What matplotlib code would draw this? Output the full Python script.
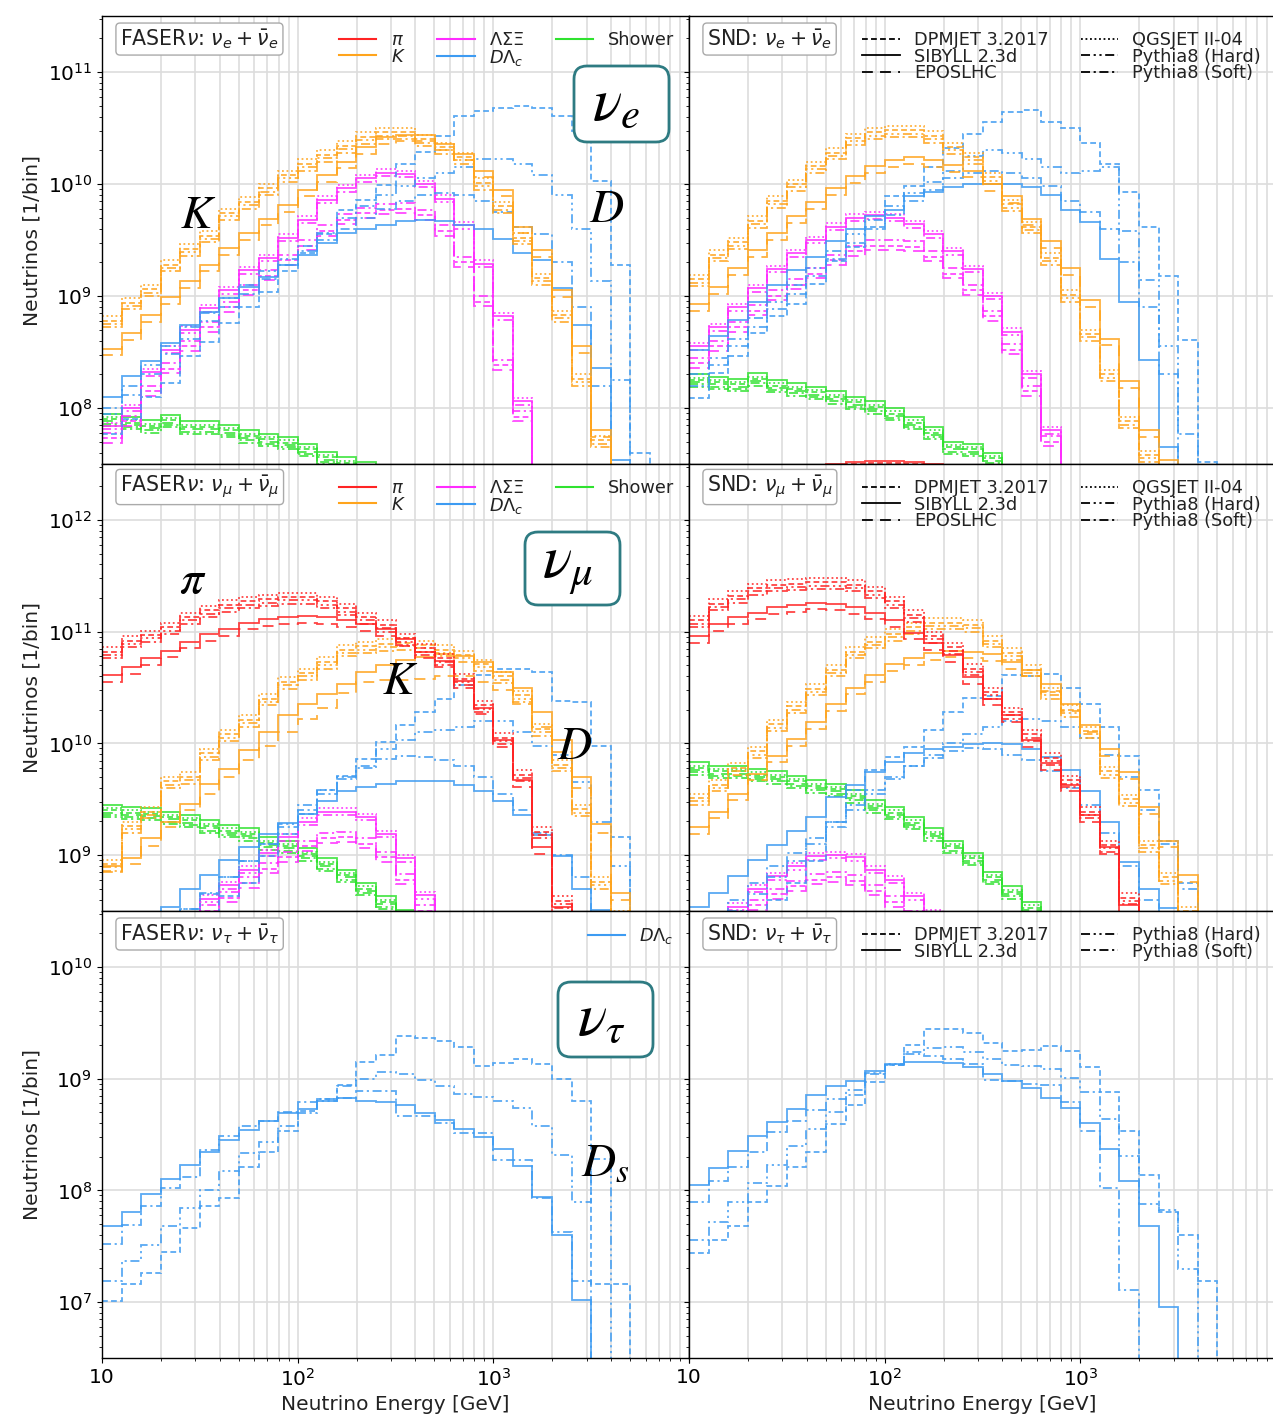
import numpy as np
import matplotlib.pyplot as plt
from matplotlib.ticker import FixedLocator, LogLocator, FuncFormatter, NullFormatter
from matplotlib.lines import Line2D
from matplotlib.patches import FancyBboxPatch
from matplotlib.transforms import IdentityTransform

# energy bins: 0.1 decade from 10 GeV to 10 TeV
edges = np.logspace(1, 4, 31)

DPM, SIB, EPOS, QGS, PYH, PYS = ('DPMJET 3.2017', 'SIBYLL 2.3d', 'EPOSLHC',
                                 'QGSJET II-04', 'Pythia8 (Hard)', 'Pythia8 (Soft)')

# log10(neutrinos / bin), 0 = empty bin
# ---- FASERnu, nu_e ----
FE_K_HI = [8.82, 8.98, 9.10, 9.32, 9.46, 9.58, 9.78, 9.88, 10.0, 10.12, 10.22, 10.30, 10.38, 10.46, 10.50,
           10.50, 10.44, 10.37, 10.28, 10.05, 9.84, 9.56, 9.20, 8.87, 8.30, 7.75, 0, 0, 0, 0]
FE_K_LO = [8.53, 8.67, 8.83, 8.99, 9.13, 9.28, 9.43, 9.56, 9.69, 9.81, 9.95, 10.08, 10.20, 10.33, 10.42,
           10.44, 10.44, 10.36, 10.27, 10.12, 9.95, 9.62, 9.41, 9.05, 8.55, 7.80, 0, 0, 0, 0]
FE_L_HI = [7.84, 8.00, 8.32, 8.52, 8.70, 8.89, 9.05, 9.23, 9.34, 9.52, 9.68, 9.86, 9.96, 10.05, 10.10,
           10.09, 10.00, 9.87, 9.63, 9.29, 8.82, 8.06, 0, 0, 0, 0, 0, 0, 0, 0]
FE_L_LO = [7.73, 7.88, 8.15, 8.35, 8.55, 8.72, 8.90, 9.05, 9.18, 9.32, 9.45, 9.58, 9.68, 9.74, 9.77,
           9.78, 9.72, 9.58, 9.30, 8.95, 8.38, 7.92, 0, 0, 0, 0, 0, 0, 0, 0]
FE_D_DPM = [7.77, 7.90, 8.10, 8.22, 8.46, 8.59, 8.76, 8.90, 9.04, 9.22, 9.38, 9.55, 9.77, 9.86, 9.99,
            10.18, 10.29, 10.43, 10.61, 10.65, 10.68, 10.70, 10.68, 10.61, 10.47, 10.03, 9.28, 7.60, 0, 0]
FE_D_SIB = [8.10, 8.29, 8.42, 8.58, 8.74, 8.86, 8.98, 9.08, 9.17, 9.28, 9.37, 9.47, 9.56, 9.60, 9.63,
            9.67, 9.68, 9.67, 9.63, 9.60, 9.51, 9.38, 9.32, 9.07, 8.74, 8.36, 7.54, 0, 0, 0]
FE_D_PYH = [8.00, 8.20, 8.38, 8.55, 8.72, 8.85, 8.98, 9.10, 9.22, 9.33, 9.45, 9.56, 9.70, 9.80, 9.90,
            9.98, 10.05, 10.10, 10.15, 10.22, 10.22, 10.18, 10.08, 9.90, 9.60, 9.13, 8.25, 0, 0, 0]
FE_D_PYS = [7.95, 8.12, 8.30, 8.48, 8.62, 8.78, 8.90, 9.02, 9.15, 9.28, 9.40, 9.50, 9.60, 9.70, 9.78,
            9.85, 9.90, 9.92, 9.90, 9.85, 9.75, 9.62, 9.55, 9.30, 8.90, 8.20, 0, 0, 0, 0]
FE_SH = [7.95, 7.92, 7.89, 7.94, 7.88, 7.88, 7.85, 7.80, 7.77, 7.74, 7.68, 7.61, 7.56, 7.52, 7.40,
         0, 0, 0, 0, 0, 0, 0, 0, 0, 0, 0, 0, 0, 0, 0]

# ---- SND, nu_e ----
SE_K_HI = [9.19, 9.41, 9.52, 9.71, 9.89, 10.04, 10.20, 10.32, 10.45, 10.50, 10.52, 10.52, 10.47, 10.37, 10.28,
           10.10, 9.86, 9.66, 9.38, 9.05, 8.70, 8.34, 7.92, 7.62, 0, 0, 0, 0, 0, 0]
SE_K_LO = [8.93, 9.08, 9.25, 9.41, 9.56, 9.71, 9.84, 9.96, 10.07, 10.16, 10.21, 10.24, 10.21, 10.17, 10.12,
           10.00, 9.89, 9.69, 9.49, 9.25, 8.96, 8.62, 8.24, 7.80, 7.54, 0, 0, 0, 0, 0]
SE_L_HI = [8.55, 8.72, 8.90, 9.07, 9.24, 9.38, 9.50, 9.62, 9.70, 9.72, 9.70, 9.64, 9.55, 9.40, 9.24,
           9.00, 8.68, 8.30, 7.80, 0, 0, 0, 0, 0, 0, 0, 0, 0, 0, 0]
SE_L_LO = [8.40, 8.55, 8.72, 8.87, 9.00, 9.10, 9.20, 9.32, 9.40, 9.45, 9.45, 9.44, 9.35, 9.20, 9.05,
           8.82, 8.52, 8.15, 7.70, 0, 0, 0, 0, 0, 0, 0, 0, 0, 0, 0]
SE_D_DPM = [8.09, 8.31, 8.46, 8.67, 8.82, 8.93, 9.11, 9.31, 9.44, 9.62, 9.89, 9.98, 10.15, 10.32, 10.45,
            10.55, 10.64, 10.66, 10.55, 10.50, 10.37, 10.18, 9.93, 9.62, 9.18, 8.61, 7.52, 0, 0, 0]
SE_D_SIB = [8.52, 8.64, 8.79, 8.95, 9.10, 9.23, 9.35, 9.49, 9.60, 9.71, 9.77, 9.89, 9.93, 9.97, 10.00,
            10.00, 10.00, 9.97, 9.90, 9.77, 9.66, 9.33, 8.95, 8.43, 7.65, 0, 0, 0, 0, 0]
SE_D_PYH = [8.30, 8.45, 8.62, 8.80, 8.95, 9.10, 9.25, 9.40, 9.55, 9.68, 9.80, 9.92, 10.02, 10.12, 10.25,
            10.30, 10.28, 10.22, 10.15, 10.10, 10.12, 10.15, 9.58, 9.14, 8.55, 7.77, 0, 0, 0, 0]
SE_D_PYS = [8.20, 8.38, 8.55, 8.72, 8.88, 9.02, 9.18, 9.33, 9.47, 9.60, 9.72, 9.85, 9.95, 10.05, 10.10,
            10.12, 10.10, 10.05, 9.98, 9.85, 9.75, 9.60, 9.30, 8.90, 8.30, 0, 0, 0, 0, 0]
SE_SH = [8.30, 8.28, 8.26, 8.31, 8.25, 8.22, 8.19, 8.15, 8.10, 8.06, 8.00, 7.92, 7.83, 7.70, 7.68,
         7.60, 7.45, 0, 0, 0, 0, 0, 0, 0, 0, 0, 0, 0, 0, 0]
SE_PI = [0, 0, 0, 0, 0, 0, 7.48, 7.50, 7.52, 7.53, 7.53, 7.52, 7.50, 0, 0,
         0, 0, 0, 0, 0, 0, 0, 0, 0, 0, 0, 0, 0, 0, 0]

# ---- FASERnu, nu_mu ----
FM_PI_HI = [10.86, 10.96, 11.01, 11.08, 11.17, 11.23, 11.28, 11.31, 11.33, 11.35, 11.35, 11.31, 11.25, 11.17, 11.10,
            10.98, 10.89, 10.80, 10.62, 10.38, 10.09, 9.76, 9.25, 8.63, 0, 0, 0, 0, 0, 0]
FM_PI_LO = [10.61, 10.68, 10.76, 10.83, 10.91, 10.98, 11.02, 11.08, 11.11, 11.13, 11.14, 11.13, 11.10, 11.07, 11.02,
            10.93, 10.82, 10.74, 10.56, 10.32, 10.03, 9.67, 9.07, 8.54, 0, 0, 0, 0, 0, 0]
FM_K_HI = [8.96, 9.30, 9.43, 9.70, 9.74, 9.95, 10.12, 10.25, 10.44, 10.59, 10.67, 10.77, 10.88, 10.91, 10.93,
           10.94, 10.92, 10.88, 10.83, 10.75, 10.64, 10.47, 10.17, 9.85, 9.45, 8.80, 8.50, 0, 0, 0]
FM_K_LO = [8.90, 8.97, 9.15, 9.30, 9.46, 9.64, 9.77, 9.94, 10.10, 10.25, 10.35, 10.44, 10.53, 10.64, 10.70,
           10.75, 10.77, 10.80, 10.78, 10.73, 10.64, 10.50, 10.28, 10.03, 9.70, 9.28, 8.66, 0, 0, 0]
FM_K_EPOS = [8.85, 8.92, 9.08, 9.25, 9.40, 9.55, 9.70, 9.85, 9.98, 10.10, 10.22, 10.32, 10.45, 10.55, 10.57,
             10.57, 10.58, 10.60, 10.60, 10.55, 10.48, 10.35, 10.15, 9.92, 9.60, 9.20, 8.60, 0, 0, 0]
FM_L_HI = [7.90, 8.00, 8.10, 8.25, 8.40, 8.61, 8.73, 8.87, 9.02, 9.16, 9.30, 9.39, 9.39, 9.34, 9.19,
           8.97, 8.64, 0, 0, 0, 0, 0, 0, 0, 0, 0, 0, 0, 0, 0]
FM_L_LO = [7.80, 7.90, 8.00, 8.15, 8.30, 8.50, 8.62, 8.75, 8.88, 8.98, 9.08, 9.15, 9.16, 9.10, 8.98,
           8.78, 8.50, 0, 0, 0, 0, 0, 0, 0, 0, 0, 0, 0, 0, 0]
FM_D_DPM = [7.90, 8.05, 8.15, 8.30, 8.38, 8.48, 8.63, 8.75, 8.99, 9.19, 9.37, 9.58, 9.71, 9.86, 10.01,
            10.16, 10.28, 10.40, 10.52, 10.61, 10.67, 10.67, 10.64, 10.38, 10.37, 9.98, 9.16, 0, 0, 0]
FM_D_SIB = [8.20, 8.30, 8.42, 8.54, 8.70, 8.82, 8.96, 9.07, 9.19, 9.29, 9.37, 9.48, 9.57, 9.61, 9.64,
            9.66, 9.66, 9.66, 9.63, 9.57, 9.48, 9.36, 9.18, 8.99, 8.70, 8.51, 0, 0, 0, 0]
FM_D_PYH = [8.00, 8.12, 8.25, 8.38, 8.52, 8.66, 8.80, 8.95, 9.10, 9.28, 9.45, 9.58, 9.70, 9.80, 9.95,
            10.03, 10.10, 10.12, 10.15, 10.20, 10.20, 10.10, 9.98, 9.90, 9.65, 9.30, 8.90, 0, 0, 0]
FM_D_PYS = [8.00, 8.12, 8.25, 8.38, 8.52, 8.65, 8.80, 8.95, 9.10, 9.25, 9.40, 9.55, 9.68, 9.78, 9.86,
            9.89, 9.88, 9.85, 9.80, 9.70, 9.55, 9.40, 9.20, 9.00, 8.80, 0, 0, 0, 0, 0]
FM_SH = [9.45, 9.43, 9.42, 9.39, 9.36, 9.31, 9.27, 9.24, 9.16, 9.13, 9.06, 8.97, 8.87, 8.75, 8.63,
         8.51, 0, 0, 0, 0, 0, 0, 0, 0, 0, 0, 0, 0, 0, 0]

# ---- SND, nu_mu ----
SM_PI_HI = [11.14, 11.29, 11.36, 11.43, 11.46, 11.47, 11.48, 11.48, 11.46, 11.40, 11.31, 11.19, 11.00, 10.90, 10.71,
            10.50, 10.32, 10.12, 9.91, 9.71, 9.43, 9.13, 8.66, 0, 0, 0, 0, 0, 0, 0]
SM_PI_LO = [10.96, 11.07, 11.13, 11.17, 11.22, 11.24, 11.26, 11.25, 11.22, 11.17, 11.10, 10.99, 10.90, 10.79, 10.59,
            10.40, 10.25, 10.03, 9.82, 9.63, 9.36, 9.07, 8.55, 0, 0, 0, 0, 0, 0, 0]
SM_K_HI = [9.55, 9.67, 9.82, 9.97, 10.21, 10.37, 10.53, 10.70, 10.86, 10.95, 11.02, 11.08, 11.12, 11.12, 11.10,
           10.96, 10.85, 10.70, 10.50, 10.34, 10.15, 9.79, 9.54, 9.13, 8.84, 8.54, 0, 0, 0, 0]
SM_K_LO = [9.25, 9.39, 9.55, 9.73, 9.89, 10.04, 10.19, 10.35, 10.50, 10.61, 10.71, 10.76, 10.81, 10.83, 10.82,
           10.80, 10.73, 10.66, 10.53, 10.35, 10.16, 9.95, 9.74, 9.43, 9.13, 8.82, 0, 0, 0, 0]
SM_L_HI = [8.20, 8.35, 8.54, 8.70, 8.81, 8.90, 8.99, 9.00, 8.98, 8.87, 8.78, 8.63, 8.48, 0, 0,
           0, 0, 0, 0, 0, 0, 0, 0, 0, 0, 0, 0, 0, 0, 0]
SM_L_LO = [8.10, 8.25, 8.40, 8.55, 8.65, 8.72, 8.78, 8.80, 8.77, 8.68, 8.58, 8.45, 0, 0, 0,
           0, 0, 0, 0, 0, 0, 0, 0, 0, 0, 0, 0, 0, 0, 0]
SM_D_DPM = [8.00, 8.15, 8.30, 8.45, 8.60, 8.75, 8.95, 9.30, 9.58, 9.76, 9.88, 9.97, 10.12, 10.28, 10.41,
            10.42, 10.61, 10.60, 10.62, 10.50, 10.35, 10.15, 9.89, 9.58, 9.13, 8.75, 0, 0, 0, 0]
SM_D_SIB = [8.54, 8.66, 8.81, 8.96, 9.09, 9.22, 9.34, 9.52, 9.63, 9.74, 9.83, 9.91, 9.95, 9.97, 9.99,
            10.00, 9.99, 9.95, 9.88, 9.76, 9.57, 9.30, 8.94, 8.70, 8.53, 0, 0, 0, 0, 0]
SM_D_PYH = [8.20, 8.35, 8.50, 8.65, 8.80, 8.95, 9.10, 9.25, 9.40, 9.55, 9.68, 9.80, 9.90, 10.00, 10.08,
            10.15, 10.20, 10.22, 10.20, 10.15, 10.05, 9.90, 9.70, 9.40, 9.10, 8.70, 0, 0, 0, 0]
SM_D_PYS = [8.30, 8.45, 8.60, 8.75, 8.90, 9.02, 9.15, 9.30, 9.45, 9.58, 9.70, 9.80, 9.87, 9.93, 9.96,
            9.95, 9.90, 9.85, 9.75, 9.60, 9.45, 9.20, 8.90, 8.60, 0, 0, 0, 0, 0, 0]
SM_SH = [9.83, 9.80, 9.80, 9.77, 9.75, 9.71, 9.67, 9.64, 9.58, 9.49, 9.43, 9.34, 9.24, 9.13, 9.02,
         8.85, 8.72, 8.58, 0, 0, 0, 0, 0, 0, 0, 0, 0, 0, 0, 0]

# ---- nu_tau (charm only) ----
FT_DPM = [7.01, 7.16, 7.26, 7.45, 7.66, 7.86, 7.93, 8.21, 8.34, 8.53, 8.71, 8.82, 8.94, 9.15, 9.21,
          9.38, 9.36, 9.34, 9.28, 9.11, 9.14, 9.18, 9.13, 9.00, 8.80, 7.16, 7.16, 0, 0, 0]
FT_SIB = [7.68, 7.81, 7.97, 8.10, 8.23, 8.34, 8.45, 8.54, 8.62, 8.69, 8.73, 8.80, 8.83, 8.80, 8.79,
          8.76, 8.69, 8.63, 8.55, 8.48, 8.37, 8.22, 7.94, 7.60, 7.02, 0, 0, 0, 0, 0]
FT_PYH = [7.19, 7.37, 7.51, 7.68, 7.84, 8.00, 8.17, 8.33, 8.43, 8.58, 8.69, 8.80, 8.93, 9.00, 9.06,
          9.04, 8.99, 8.93, 8.86, 8.84, 8.80, 8.74, 8.58, 8.32, 7.90, 8.28, 0, 0, 0, 0]
FT_PYS = [7.52, 7.69, 7.86, 8.02, 8.12, 8.36, 8.49, 8.58, 8.62, 8.70, 8.79, 8.82, 8.83, 8.89, 8.89,
          8.67, 8.67, 8.60, 8.51, 8.51, 8.27, 8.27, 7.93, 7.63, 7.19, 0, 0, 0, 0, 0]
ST_DPM = [7.44, 7.56, 7.68, 7.90, 8.04, 8.21, 8.34, 8.59, 8.76, 8.97, 9.12, 9.30, 9.44, 9.44, 9.41,
          9.32, 9.25, 9.26, 9.29, 9.25, 9.10, 8.88, 8.53, 8.14, 7.81, 7.60, 7.19, 0, 0, 0]
ST_SIB = [8.05, 8.20, 8.35, 8.49, 8.61, 8.73, 8.85, 8.93, 8.98, 9.07, 9.13, 9.15, 9.15, 9.14, 9.10,
          9.04, 8.98, 8.92, 8.83, 8.74, 8.60, 8.37, 8.08, 7.68, 6.96, 0, 0, 0, 0, 0]
ST_PYH = [7.56, 7.72, 7.90, 8.07, 8.23, 8.40, 8.55, 8.82, 8.90, 9.05, 9.13, 9.24, 9.27, 9.28, 9.24,
          9.18, 9.12, 9.11, 9.09, 9.01, 8.88, 8.64, 8.31, 7.88, 7.82, 7.30, 0, 0, 0, 0]
ST_PYS = [7.90, 8.08, 8.21, 8.34, 8.52, 8.62, 8.72, 8.70, 8.85, 9.04, 9.12, 9.22, 9.20, 9.18, 9.13,
          8.99, 8.98, 8.95, 8.94, 8.79, 8.53, 8.02, 7.11, 0, 0, 0, 0, 0, 0, 0]

# spread of generators around the upper / lower bands (log10)
HI_SHIFT = {QGS: 0.0, DPM: -0.04, PYH: -0.07, PYS: -0.10}
LO_SHIFT = {SIB: 0.0, EPOS: -0.06}
LAM_HI_SHIFT = {QGS: 0.03, SIB: 0.0, PYH: -0.03}
LAM_LO_SHIFT = {PYS: 0.05, DPM: 0.0, EPOS: -0.04}
SH_SHIFT = {SIB: 0.0, QGS: -0.03, DPM: -0.05, EPOS: -0.07, PYH: -0.09, PYS: -0.11}

C_PI, C_K, C_L, C_D, C_S = '#ff2424', '#ffa41c', '#ff2bff', '#3d9bf2', '#2fe22f'
STYLE = {DPM: (0, (3.2, 1.8)), SIB: '-', EPOS: (0, (6, 4)), QGS: (0, (1, 1.5)),
         PYH: (0, (5, 2, 1.2, 2, 1.2, 2)), PYS: (0, (5, 2, 1.2, 2))}


def band(hi, lo, col, hs=HI_SHIFT, ls=LO_SHIFT):
    out = [(hi, col, g, s) for g, s in hs.items()]
    out += [(lo, col, g, s) for g, s in ls.items()]
    return out


def charm(dpm, sib, pyh, pys):
    return [(dpm, C_D, DPM, 0), (sib, C_D, SIB, 0), (pyh, C_D, PYH, 0), (pys, C_D, PYS, 0)]


def shower(vals):
    return [(vals, C_S, g, s) for g, s in SH_SHIFT.items()]


fm_k = band(FM_K_HI, FM_K_LO, C_K, ls={SIB: 0.0}) + [(FM_K_EPOS, C_K, EPOS, 0)]

curves = {
    (0, 0): shower(FE_SH) + band(FE_L_HI, FE_L_LO, C_L, LAM_HI_SHIFT, LAM_LO_SHIFT)
            + charm(FE_D_DPM, FE_D_SIB, FE_D_PYH, FE_D_PYS) + band(FE_K_HI, FE_K_LO, C_K),
    (0, 1): shower(SE_SH) + band(SE_L_HI, SE_L_LO, C_L, LAM_HI_SHIFT, LAM_LO_SHIFT)
            + charm(SE_D_DPM, SE_D_SIB, SE_D_PYH, SE_D_PYS) + band(SE_K_HI, SE_K_LO, C_K)
            + [(SE_PI, C_PI, SIB, 0), (SE_PI, C_PI, DPM, -0.02)],
    (1, 0): shower(FM_SH) + band(FM_L_HI, FM_L_LO, C_L, LAM_HI_SHIFT, LAM_LO_SHIFT)
            + charm(FM_D_DPM, FM_D_SIB, FM_D_PYH, FM_D_PYS) + fm_k + band(FM_PI_HI, FM_PI_LO, C_PI),
    (1, 1): shower(SM_SH) + band(SM_L_HI, SM_L_LO, C_L, LAM_HI_SHIFT, LAM_LO_SHIFT)
            + charm(SM_D_DPM, SM_D_SIB, SM_D_PYH, SM_D_PYS) + band(SM_K_HI, SM_K_LO, C_K)
            + band(SM_PI_HI, SM_PI_LO, C_PI),
    (2, 0): charm(FT_DPM, FT_SIB, FT_PYH, FT_PYS),
    (2, 1): charm(ST_DPM, ST_SIB, ST_PYH, ST_PYS),
}

ylims = [(10**7.5, 10**11.5), (10**8.5, 10**12.5), (10**6.5, 10**10.5)]
flavours = [r'$\nu_e + \bar{\nu}_e$', r'$\nu_\mu + \bar{\nu}_\mu$', r'$\nu_\tau + \bar{\nu}_\tau$']

W, H = 1273, 1418
rows = [(16, 464), (464, 911), (911, 1358)]
cols = [(102, 689), (689, 1276)]

fig = plt.figure(figsize=(W / 100, H / 100), dpi=100)


def xfmt(v, pos):
    n = int(round(np.log10(v)))
    if n == 1:
        return '10'
    if n >= 4:
        return ''
    return r'$10^{%d}$' % n


FS = 14.5
for r, (y0, y1) in enumerate(rows):
    for c, (x0, x1) in enumerate(cols):
        ax = fig.add_axes([x0 / W, 1 - y1 / H, (x1 - x0) / W, (y1 - y0) / H])
        ax.set_xscale('log')
        ax.set_yscale('log')
        ax.set_axisbelow(True)
        for vals, col, gen, shift in curves[(r, c)]:
            v = np.asarray(vals, float)
            y = np.where(v > 0, 10 ** (v + shift), 1.0)
            ax.stairs(y, edges, color=col, linestyle=STYLE[gen], lw=1.3, alpha=0.85, baseline=None)
        ax.set_xlim(10, 1e4)
        ax.set_ylim(*ylims[r])
        ax.xaxis.set_major_locator(FixedLocator([10, 100, 1000, 10000]))
        ax.xaxis.set_major_formatter(FuncFormatter(xfmt))
        ax.xaxis.set_minor_locator(LogLocator(base=10, subs=np.arange(2, 10)))
        ax.xaxis.set_minor_formatter(NullFormatter())
        ax.yaxis.set_minor_locator(LogLocator(base=10, subs=np.arange(2, 10), numticks=20))
        ax.yaxis.set_minor_formatter(NullFormatter())
        ax.grid(which='major', color='#dddddd', lw=1.2)
        ax.grid(which='minor', axis='x', color='#dddddd', lw=1.2)
        ax.tick_params(labelsize=FS)
        for sp in ax.spines.values():
            sp.set_linewidth(1.0)
        if c == 1:
            ax.tick_params(labelleft=False)
        else:
            ax.set_ylabel('Neutrinos [1/bin]', fontsize=FS, color='#222222')
        if r < 2:
            ax.tick_params(labelbottom=False)
        else:
            ax.set_xlabel('Neutrino Energy [GeV]', fontsize=FS, color='#222222')

        det = r'FASER$\nu$: ' if c == 0 else 'SND: '
        ax.text(18 / 586, 1 - 23 / 447, det + flavours[r], transform=ax.transAxes, fontsize=14.8,
                va='center', ha='left', color='#222222',
                bbox=dict(boxstyle='round,pad=0.2', fc='white', ec='#aaaaaa', lw=1))

        if c == 0:
            if r < 2:
                hs = [Line2D([], [], color=C_PI, lw=1.5), Line2D([], [], color=C_K, lw=1.5),
                      Line2D([], [], color=C_L, lw=1.5), Line2D([], [], color=C_D, lw=1.5),
                      Line2D([], [], color=C_S, lw=1.5)]
                lb = [r'$\pi$', r'$K$', r'$\Lambda\Sigma\Xi$', r'$D\Lambda_c$', 'Shower']
                nc = 3
            else:
                hs = [Line2D([], [], color=C_D, lw=1.5)]
                lb = [r'$D\Lambda_c$']
                nc = 1
        else:
            gens = [DPM, SIB, EPOS, QGS, PYH, PYS] if r < 2 else [DPM, SIB, PYH, PYS]
            hs = [Line2D([], [], color='k', lw=1.3, linestyle=STYLE[g]) for g in gens]
            lb = gens
            nc = 2
        ax.legend(hs, lb, loc='upper right', ncol=nc, frameon=False, fontsize=12.8,
                  handlelength=2.1, handletextpad=0.8, columnspacing=1.8,
                  labelspacing=-0.08, borderaxespad=0.45, labelcolor='#222222')


# large annotation labels (positions in figure pixels)
def big(x, y, s, size):
    fig.text(x / W, 1 - y / H, s, ha='center', va='center', fontsize=size,
             math_fontfamily='stix', color='black')


def nubox(x0, y0, x1, y1):
    fig.add_artist(FancyBboxPatch((x0, H - y1), x1 - x0, y1 - y0,
                                  boxstyle='round,pad=0,rounding_size=13',
                                  transform=IdentityTransform(), fc='white', ec='#2e7b82', lw=2))


nubox(574, 66, 669, 142)
big(616, 103, r'$\nu_e$', 44)
big(198, 215, r'$K$', 34)
big(607, 209, r'$D$', 34)
big(193, 580, r'$\pi$', 34)
nubox(525, 532, 620, 605)
big(568, 566, r'$\nu_\mu$', 44)
big(400, 682, r'$K$', 34)
big(575, 747, r'$D$', 34)
nubox(558, 982, 653, 1057)
big(601, 1018, r'$\nu_\tau$', 44)
big(605, 1163, r'$D_s$', 34)

fig.savefig('out.png', dpi=100)
